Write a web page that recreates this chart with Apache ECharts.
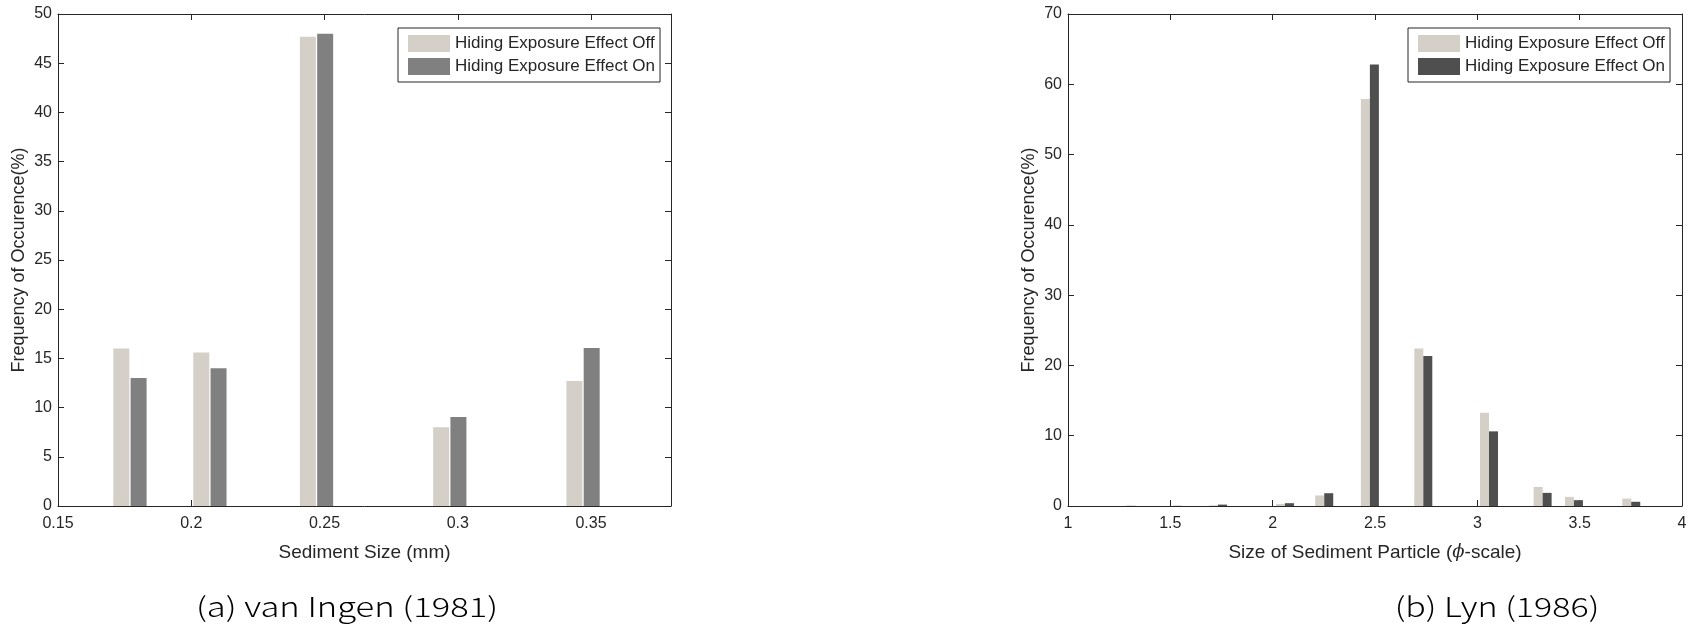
<!DOCTYPE html>
<html>
<head>
<meta charset="utf-8">
<script src="https://cdn.jsdelivr.net/npm/echarts@6/dist/echarts.min.js"></script>
<style>
html,body{margin:0;padding:0;background:#fff;}
#c{width:1695px;height:630px;}
</style>
</head>
<body>
<div id="c"></div>
<script>
// ---- data: (a) van Ingen (1981) ----
const seriesNames = ['Hiding Exposure Effect Off', 'Hiding Exposure Effect On'];
const sizeA = [0.177, 0.207, 0.247, 0.297, 0.347];
const offA = [16.0, 15.6, 47.7, 8.0, 12.7];
const onA = [13.0, 14.0, 48.0, 9.05, 16.05];
const xTicksA = [0.15, 0.2, 0.25, 0.3, 0.35];
const xMaxA = 0.38;
const yTicksA = [0, 5, 10, 15, 20, 25, 30, 35, 40, 45, 50];

// ---- data: (b) Lyn (1986) ----
const sizeB = [1.33, 1.557, 1.733, 2.06, 2.252, 2.475, 2.736, 3.057, 3.319, 3.472, 3.752];
const offB = [0.1, 0.1, 0.1, 0.3, 1.5, 57.9, 22.4, 13.25, 2.72, 1.3, 1.05];
const onB = [0, 0, 0.2, 0.4, 1.82, 62.8, 21.35, 10.62, 1.87, 0.83, 0.6];
const xTicksB = [1, 1.5, 2, 2.5, 3, 3.5, 4];
const yTicksB = [0, 10, 20, 30, 40, 50, 60, 70];

const captions = ['(a) van Ingen (1981)', '(b) Lyn (1986)'];
const xNames = ['Sediment Size (mm)', 'Size of Sediment Particle ({i|ϕ}-scale)'];
const yName = 'Frequency of Occurence(%)';

const LIGHT = '#d4d0c8', DARKA = '#808080', DARKB = '#4f4f4f';
const AX = '#262626';
const FONT = '"Liberation Sans", Arial, sans-serif';

function pairs(xs, ys) { return xs.map((x, i) => [x, ys[i]]); }

const grids = [
  {left: 58, top: 14, width: 613, height: 492},
  {left: 1068, top: 14, width: 614, height: 492}
];

function xAxes(gi, ticks, max, name) {
  const base = {
    gridIndex: gi, type: 'value', min: ticks[0], max: max,
    interval: ticks[1] - ticks[0], splitLine: {show: false},
    axisLine: {show: true, onZero: false, lineStyle: {color: AX, width: 1}},
    axisTick: {show: true, inside: true, length: 6, lineStyle: {color: AX}}
  };
  return [
    Object.assign({}, base, {
      position: 'bottom', name: name, nameLocation: 'middle', nameGap: 37,
      nameTextStyle: {fontFamily: FONT, fontSize: 19, color: AX,
        rich: {i: {fontFamily: '"DejaVu Serif", serif', fontStyle: 'italic', fontSize: 18, color: AX}}},
      axisLabel: {show: true, margin: 10, fontFamily: FONT, fontSize: 16, color: AX,
        formatter: v => ticks.some(t => Math.abs(t - v) < 1e-9) ? String(+v.toFixed(3)) : ''}
    }),
    Object.assign({}, base, {position: 'top', axisLabel: {show: false}})
  ];
}
function yAxes(gi, ticks) {
  const base = {
    gridIndex: gi, type: 'value', min: ticks[0], max: ticks[ticks.length - 1],
    interval: ticks[1] - ticks[0], splitLine: {show: false},
    axisLine: {show: true, onZero: false, lineStyle: {color: AX, width: 1}},
    axisTick: {show: true, inside: true, length: 6, lineStyle: {color: AX}}
  };
  return [
    Object.assign({}, base, {
      position: 'left', name: yName, nameLocation: 'middle', nameGap: 30,
      nameTextStyle: {fontFamily: FONT, fontSize: 18, color: AX},
      axisLabel: {show: true, margin: 6, fontFamily: FONT, fontSize: 16, color: AX}
    }),
    Object.assign({}, base, {position: 'right', axisLabel: {show: false}})
  ];
}

function legend(left, dark) {
  return {
    orient: 'vertical', left: left, top: 28,
    icon: 'rect', itemWidth: 42, itemHeight: 17, itemGap: 6,
    padding: [7, 5, 7, 10], borderColor: AX, borderWidth: 1, backgroundColor: '#fff',
    textStyle: {fontFamily: FONT, fontSize: 17, color: AX, lineHeight: 17},
    selectedMode: false,
    data: [
      {name: seriesNames[0], itemStyle: {color: LIGHT}},
      {name: seriesNames[1], itemStyle: {color: dark}}
    ]
  };
}

const capStyle = {align: 'center', verticalAlign: 'middle',
  fontFamily: '"Noto Sans CJK KR", sans-serif', fontWeight: 300, fontSize: 27, fill: '#000'};

const option = {
  animation: false,
  backgroundColor: '#fff',
  grid: grids,
  xAxis: [...xAxes(0, xTicksA, xMaxA, xNames[0]), ...xAxes(1, xTicksB, xTicksB[xTicksB.length - 1], xNames[1])],
  yAxis: [...yAxes(0, yTicksA), ...yAxes(1, yTicksB)],
  legend: [legend(398, DARKA), legend(1408, DARKB)],
  series: [
    {name: seriesNames[0], type: 'bar', xAxisIndex: 0, yAxisIndex: 0, barWidth: 16,
     itemStyle: {color: LIGHT}, data: pairs(sizeA, offA)},
    {name: seriesNames[1], type: 'bar', xAxisIndex: 0, yAxisIndex: 0, barWidth: 16, barGap: '8%',
     itemStyle: {color: DARKA}, data: pairs(sizeA, onA)},
    {name: seriesNames[0], type: 'bar', xAxisIndex: 2, yAxisIndex: 2, barWidth: 9,
     itemStyle: {color: LIGHT}, data: pairs(sizeB, offB)},
    {name: seriesNames[1], type: 'bar', xAxisIndex: 2, yAxisIndex: 2, barWidth: 9, barGap: '0%',
     itemStyle: {color: DARKB}, data: pairs(sizeB, onB)}
  ],
  graphic: [
    {type: 'text', x: 347, y: 607, scaleX: 1.28, style: Object.assign({text: captions[0]}, capStyle)},
    {type: 'text', x: 1497, y: 607, scaleX: 1.26, style: Object.assign({text: captions[1]}, capStyle)}
  ]
};

const chart = echarts.init(document.getElementById('c'), null, {renderer: 'canvas'});
chart.setOption(option);
</script>
</body>
</html>
